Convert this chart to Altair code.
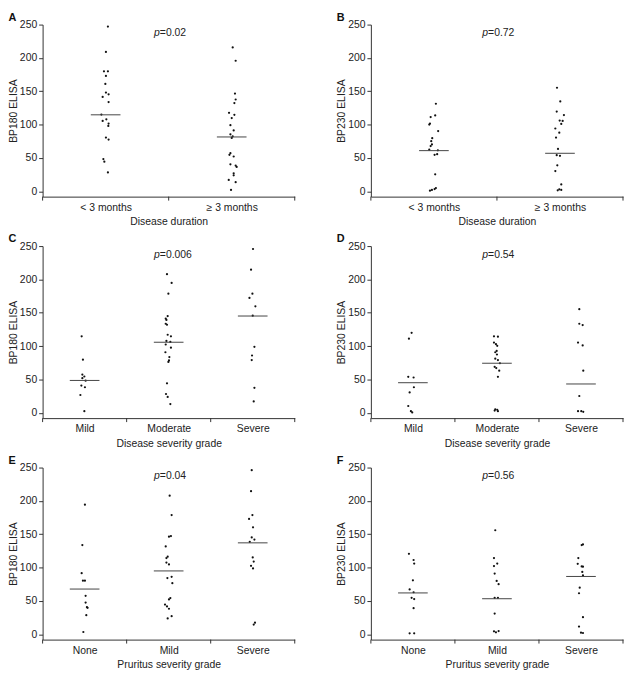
import altair as alt
import pandas as pd

FONT = "Liberation Sans"
INK = "#222222"

# ---------------- data ----------------
# Panel A: BP180 ELISA by disease duration
A_groups = ["< 3 months", "≥ 3 months"]
A_g1 = [247, 209, 180, 180, 173, 161, 148, 145.5, 141.6, 133.8, 115, 108, 105.5, 101.6, 98, 80.6, 77.6, 48.3, 44.4, 28.3]
A_g1_jit = [2.3, 0.3, -1.7, 2.3, 0.3, -0.3, 0.3, 3, -3, 3, -4.3, 0.7, -3, 3, 2.7, 0.3, 3, -2.3, -1.3, 2.3]
A_g2 = [215.8, 195.8, 146.5, 137.7, 132.3, 117.7, 114.7, 109.9, 99.1, 91.3, 85.4, 82.5, 80, 57.1, 54.7, 52.2, 40.5, 38.6, 36.6, 26.9, 23.9, 17.1, 13.7, 2]
A_g2_jit = [1, 4, 3.3, 4, 2.7, -2.7, 2.7, 0, -1.3, 2, -1.3, 1, 0, -1.3, -2.3, 2, -1.3, 4, 5, 2, 2, -3, 4, -0.7]
A_medians = [114.7, 81.5]

# Panel B: BP230 ELISA by disease duration
B_groups = ["< 3 months", "≥ 3 months"]
B_g1 = [131.3, 113.8, 111.3, 101.6, 100.1, 90.3, 79.6, 75.2, 70.3, 67.9, 62.5, 61.5, 55.7, 54.7, 25.4, 4.9, 3.4, 2, 1]
B_g1_jit = [2, 1.3, -3.3, -4, -4.7, 4.3, -1.7, -2.7, -2, -3.3, -4.7, 4, 3.3, 0.7, 1.3, 2, 0.7, -2, -4]
B_g2 = [155.3, 134.8, 119.6, 114.3, 106, 105.5, 101, 94.2, 87.9, 80.6, 63.5, 54.2, 53.2, 39, 30.3, 10.3, 2.9, 2, 1.5]
B_g2_jit = [-3, 0.3, -3.3, 4, -0.3, 2.7, 1.3, -4.7, -0.7, -4, -2, -3.3, 0, -2.7, -4.7, 1.3, -0.7, 1.3, -2.3]
B_medians = [61, 57]

# Panel C: BP180 ELISA by disease severity grade
C_groups = ["Mild", "Moderate", "Severe"]
C_g1 = [114.6, 79.6, 57.3, 54.4, 51.9, 48.1, 40.8, 38.3, 26.7, 2.4]
C_g1_jit = [-3, -1.7, -2.3, -0.3, -2.3, 1, -3.3, 0.3, -4.3, -0.3]
C_g2 = [207.8, 194.7, 178.6, 145.1, 141.3, 139.3, 133.5, 132, 117, 114.6, 107.8, 106.3, 102.4, 97.6, 90.8, 83.5, 78.6, 76.2, 44.2, 28.2, 23.8, 13.1]
C_g2_jit = [-1.7, 3, -0.3, -1, -3, -2.3, -3, -1.7, -1, 2.3, -2.3, 1.7, -3, 2.3, -3.3, 0.7, 0.3, -0.3, -1.7, -2.7, -1, 1.7]
C_g3 = [245.6, 214.6, 178.6, 172.3, 159.7, 145.6, 99, 85.9, 79.1, 37.4, 17]
C_g3_jit = [0.3, -1.7, -0.3, -3.3, 2.7, 0, 1.7, -0.7, -1, 1.7, 1]
C_medians = [48.5, 105.8, 145.1]

# Panel D: BP230 ELISA by disease severity grade
D_groups = ["Mild", "Moderate", "Severe"]
D_g1 = [119.9, 111.2, 53.9, 52.9, 38.3, 30.6, 10.2, 2.4, 0.5]
D_g1_jit = [-1.3, -4, -4.7, 0.7, 1, -3.3, -4.7, -2, -0.7]
D_g2 = [114.6, 114.1, 105.3, 102.9, 100.5, 92.7, 90.8, 87.4, 81.1, 79.1, 74.3, 68.9, 67, 63.1, 53.9, 5.3, 4.4, 3.4, 2.4]
D_g2_jit = [-3, 1, -3, -1, 0.3, -0.3, -1.7, 0, -1.7, 1, 3, -2.3, -0.7, 2.3, 1, -1.7, 0.3, -2.3, 1]
D_g3 = [155.3, 133.5, 131.6, 105.3, 101, 63.1, 25.2, 2.4, 2.4, 1.5]
D_g3_jit = [-1.7, -1.7, 1.7, -3, 1.7, 2.3, -1.7, -3, 0.3, 2.3]
D_medians = [45.1, 74.3, 43.2]

# Panel E: BP180 ELISA by pruritus severity grade
E_groups = ["None", "Mild", "Severe"]
E_g1 = [194.3, 133.7, 91.6, 80.4, 80.4, 57.7, 47.5, 40.7, 39.7, 28.6, 3.4]
E_g1_jit = [0.3, -2.3, -3, -1.7, 0.3, 1, 1, 2.3, 3, 1.7, -1.3]
E_g2 = [207.8, 178.8, 147.3, 146.3, 131.8, 116.3, 114.3, 107.6, 104.7, 86.2, 84.3, 76.6, 54.3, 52.3, 44.6, 41.7, 38.3, 27.1, 23.7]
E_g2_jit = [1, 3, 2.3, 0.3, -3, -1, -2.3, -2.3, 0.3, 3, -1.3, 3.7, 1.7, 0.3, -3.7, -1.7, 0.3, 3, -1]
E_g3 = [246.1, 214.6, 178.8, 173, 160.4, 145.3, 142, 138.6, 115.3, 109, 102.7, 98.8, 17.4, 14.5]
E_g3_jit = [-1, -1.7, -0.3, -3.7, 0.3, -1, 1.7, -3, 0, 1, -1.7, 0.3, 2.3, 1]
E_medians = [67.8, 95, 137.1]

# Panel F: BP230 ELISA by pruritus severity grade
F_groups = ["None", "Mild", "Severe"]
F_g1 = [120.6, 111.4, 106.1, 80.9, 67.3, 63, 54.7, 52.8, 39.2, 1.5, 1.5]
F_g1_jit = [-4, 0.7, 1.3, 0, -3.3, 0.7, -1.3, 1.3, 0.7, -3.3, 1.3]
F_g2 = [156, 114.3, 106.1, 102.2, 91.1, 80, 75.1, 54.7, 54.7, 31, 4.8, 4.4, 2.9]
F_g2_jit = [-1.7, -3, 0.3, -3, -2.3, -0.3, 1.7, -2.3, 1, -2.3, 1.7, -3, -1]
F_g3 = [134.7, 133.7, 114.3, 105.6, 101.7, 101.3, 93.5, 88.2, 69.8, 61.5, 25.7, 11.6, 2.4, 1.9]
F_g3_jit = [2, 0.7, -2.7, -3.3, 0.7, 2, 1.3, 2, -1.3, -2, 2, -2, 0, 2]
F_medians = [62, 53.3, 86.7]

p_values = ["=0.02", "=0.72", "=0.006", "=0.54", "=0.04", "=0.56"]
y_ticks = [0, 50, 100, 150, 200, 250]

# ---------------- layout ----------------
W, H = 255, 174
Y_DOMAIN = [-8, 250]
P_Y = 237
MED_HALF_PX = 15


def panel(letter, groups, vals, jits, medians, ytitle, xtitle, ptext):
    n = len(groups)
    band = W / n
    rows = []
    for i, (vs, js) in enumerate(zip(vals, jits)):
        for v, j in zip(vs, js):
            rows.append({"x": i + 0.5 + j / band, "y": v})
    pts = pd.DataFrame(rows)
    med = pd.DataFrame({
        "x": [i + 0.5 - MED_HALF_PX / band for i in range(n)],
        "x2": [i + 0.5 + MED_HALF_PX / band for i in range(n)],
        "y": medians,
    })
    bounds = pd.DataFrame({"b": list(range(n + 1))})
    ptxt = pd.DataFrame({"x": [0.465 * n], "y": [P_Y], "p": ["p"], "rest": [ptext]})

    expr = " : ".join(
        f"datum.value == {i + 0.5} ? '{g}'" for i, g in enumerate(groups[:-1])
    ) + f" : '{groups[-1]}'"

    xscale = alt.Scale(domain=[0, n], nice=False, zero=False)
    yscale = alt.Scale(domain=Y_DOMAIN, nice=False, zero=False)
    xaxis = alt.Axis(values=[i + 0.5 for i in range(n)], labelExpr=expr, ticks=False,
                     grid=False, title=xtitle, labelPadding=6, titlePadding=4,
                     labelAngle=0, labelOverlap=False)
    yaxis = alt.Axis(values=y_ticks, grid=False, title=ytitle, tickSize=4,
                     labelPadding=2, titlePadding=1, labelOverlap=False)

    X = lambda f: alt.X(f, scale=xscale, axis=xaxis)
    Y = lambda f: alt.Y(f, scale=yscale, axis=yaxis)

    points = alt.Chart(pts).mark_circle(size=5, color="#111111", opacity=1).encode(
        x=X("x:Q"), y=Y("y:Q"),
    )
    medl = alt.Chart(med).mark_rule(color="#444444", strokeWidth=1).encode(
        x=X("x:Q"), x2="x2:Q", y=Y("y:Q")
    )
    ticks = alt.Chart(bounds).mark_rule(color="#333333", strokeWidth=1).encode(
        x=X("b:Q"), y=alt.value(H), y2=alt.value(H + 4)
    )
    p1 = alt.Chart(ptxt).mark_text(font=FONT, fontSize=10.5, fontStyle="italic",
                                   align="right", baseline="middle", color=INK).encode(
        x=X("x:Q"), y=Y("y:Q"), text="p:N")
    p2 = alt.Chart(ptxt).mark_text(font=FONT, fontSize=10.5, align="left",
                                   baseline="middle", color=INK).encode(
        x=X("x:Q"), y=Y("y:Q"), text="rest:N")

    return alt.layer(points, medl, ticks, p1, p2).properties(
        width=W, height=H,
        title=alt.TitleParams(letter, anchor="start", frame="bounds", fontSize=11,
                              fontWeight="bold", font=FONT, color="#111111", offset=-3),
    )


A = panel("A", A_groups, [A_g1, A_g2], [A_g1_jit, A_g2_jit], A_medians,
          "BP180 ELISA", "Disease duration", p_values[0])
B = panel("B", B_groups, [B_g1, B_g2], [B_g1_jit, B_g2_jit], B_medians,
          "BP230 ELISA", "Disease duration", p_values[1])
C = panel("C", C_groups, [C_g1, C_g2, C_g3], [C_g1_jit, C_g2_jit, C_g3_jit], C_medians,
          "BP180 ELISA", "Disease severity grade", p_values[2])
D = panel("D", D_groups, [D_g1, D_g2, D_g3], [D_g1_jit, D_g2_jit, D_g3_jit], D_medians,
          "BP230 ELISA", "Disease severity grade", p_values[3])
E = panel("E", E_groups, [E_g1, E_g2, E_g3], [E_g1_jit, E_g2_jit, E_g3_jit], E_medians,
          "BP180 ELISA", "Pruritus severity grade", p_values[4])
F = panel("F", F_groups, [F_g1, F_g2, F_g3], [F_g1_jit, F_g2_jit, F_g3_jit], F_medians,
          "BP230 ELISA", "Pruritus severity grade", p_values[5])

chart = alt.vconcat(
    alt.hconcat(A, B, spacing=41),
    alt.hconcat(C, D, spacing=41),
    alt.hconcat(E, F, spacing=41),
    spacing=6,
).properties(
    padding={"left": 0, "top": 0, "right": 0, "bottom": 0}
).configure_view(stroke=None).configure_axis(
    labelFont=FONT, titleFont=FONT, labelFontSize=10.5, titleFontSize=10.5,
    labelColor=INK, titleColor=INK, titleFontWeight="normal",
    domainColor="#333333", tickColor="#333333", domainWidth=1, tickWidth=1,
).configure_title(font=FONT)

chart.save("out.html", embed_options={"renderer": "svg", "actions": False})
